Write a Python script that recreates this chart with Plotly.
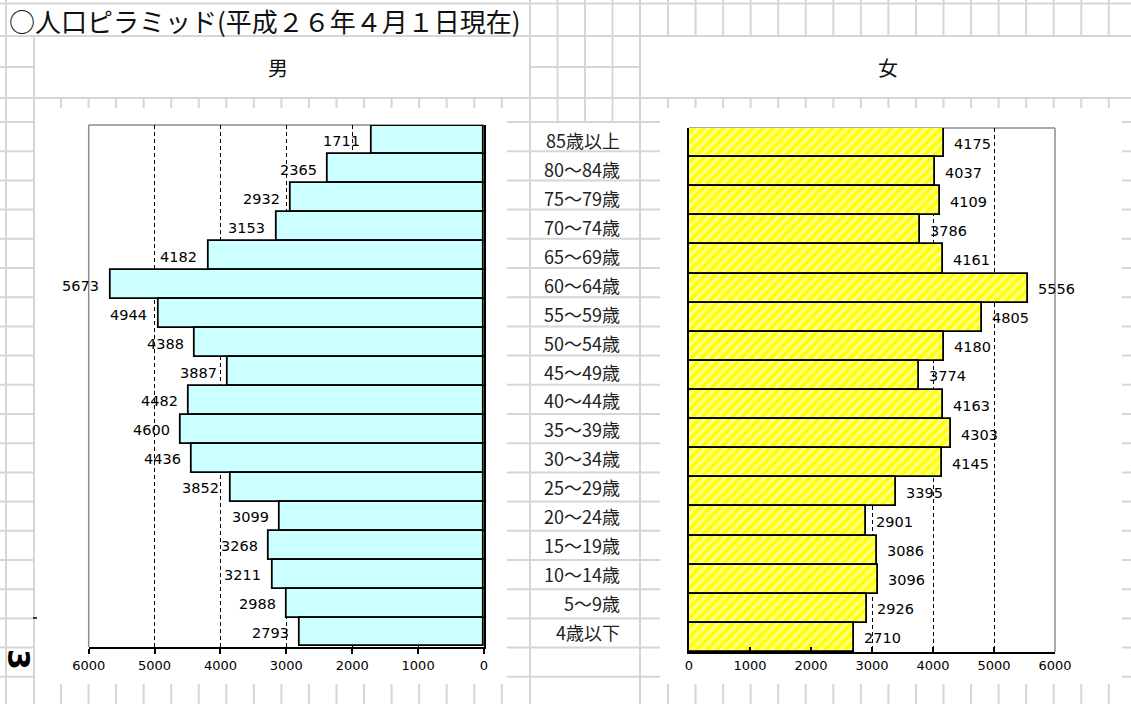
import plotly.graph_objects as go

# ---------------- data ----------------
categories = ["85歳以上", "80～84歳", "75～79歳", "70～74歳", "65～69歳", "60～64歳",
              "55～59歳", "50～54歳", "45～49歳", "40～44歳", "35～39歳", "30～34歳",
              "25～29歳", "20～24歳", "15～19歳", "10～14歳", "5～9歳", "4歳以下"]
male = [1711, 2365, 2932, 3153, 4182, 5673, 4944, 4388, 3887, 4482, 4600, 4436,
        3852, 3099, 3268, 3211, 2988, 2793]
female = [4175, 4037, 4109, 3786, 4161, 5556, 4805, 4180, 3774, 4163, 4303, 4145,
          3395, 2901, 3086, 3096, 2926, 2710]
tick_vals = [0, 1000, 2000, 3000, 4000, 5000, 6000]
title_text = "○人口ピラミッド(平成２６年４月１日現在)"
male_label = "男"
female_label = "女"

# ---------------- helpers (pixel -> paper) ----------------
W, H = 1131, 704


def px(x):
    return x / W


def py(y):
    return 1 - y / H


NUM_FONT = dict(family="DejaVu Sans", size=14.5, color="#000000")
TICK_FONT = dict(family="DejaVu Sans", size=13, color="#000000")
JP_FONT = "Noto Sans CJK JP"
GRID = "#D6D6D6"

fig = go.Figure()

fig.add_trace(go.Bar(
    y=categories, x=male, orientation="h", xaxis="x", yaxis="y",
    marker=dict(color="#CCFFFF", line=dict(color="#000000", width=1.8)),
    hoverinfo="x+y", showlegend=False,
))
fig.add_trace(go.Bar(
    y=categories, x=female, orientation="h", xaxis="x2", yaxis="y2",
    marker=dict(color="#FFFF00",
                pattern=dict(shape="/", bgcolor="#FFFF00", fgcolor="#FFFFFF",
                             size=7, solidity=0.5),
                line=dict(color="#000000", width=1.8)),
    hoverinfo="x+y", showlegend=False,
))

shapes = []

# ---- spreadsheet grid (decoration) ----
row_lines = [3.5, 36, 98] + [122 + 29.2 * k for k in range(21)]
for yv in row_lines:
    shapes.append(dict(type="line", xref="paper", yref="paper", x0=0, x1=1,
                       y0=py(yv), y1=py(yv), line=dict(color=GRID, width=2), layer="below"))
for (a, b) in [(0, 34), (530, 640)]:
    shapes.append(dict(type="line", xref="paper", yref="paper", x0=px(a), x1=px(b),
                       y0=py(67), y1=py(67), line=dict(color=GRID, width=2), layer="below"))

left_cols = [61 + 27.55 * k for k in range(17)]
mid_cols = [557.5, 585, 612.5]
right_cols = [668 + 27.55 * k for k in range(17)]


def vline(x, y0, y1):
    shapes.append(dict(type="line", xref="paper", yref="paper", x0=px(x), x1=px(x),
                       y0=py(y0), y1=py(y1), line=dict(color=GRID, width=2), layer="below"))


vline(6, 0, 704)
vline(34, 36, 704)
vline(530, 0, 704)
vline(640, 0, 704)
for c in left_cols:
    vline(c, 98, 704)
for c in mid_cols:
    vline(c, 0, 122)
for c in right_cols:
    vline(c, 0, 36)
    vline(c, 98, 704)

# chart areas (white)
for (x0, x1) in [(35, 507), (660, 1122)]:
    shapes.append(dict(type="rect", xref="paper", yref="paper", x0=px(x0), x1=px(x1),
                       y0=py(684), y1=py(108), fillcolor="#FFFFFF",
                       line=dict(width=0), layer="below"))

# plot-area frames (grey)
FRAME = dict(color="#8C8C8C", width=1.5)
shapes.append(dict(type="line", xref="x domain", yref="y domain", x0=0, x1=1, y0=1, y1=1,
                   line=FRAME, layer="below"))
shapes.append(dict(type="line", xref="x domain", yref="y domain", x0=0, x1=0, y0=0, y1=1,
                   line=FRAME, layer="above"))
shapes.append(dict(type="line", xref="x2 domain", yref="y2 domain", x0=0, x1=1, y0=1, y1=1,
                   line=FRAME, layer="below"))
shapes.append(dict(type="line", xref="x2 domain", yref="y2 domain", x0=1, x1=1, y0=0, y1=1,
                   line=FRAME, layer="above"))

# small mark on the left
shapes.append(dict(type="line", xref="paper", yref="paper", x0=px(33), x1=px(37),
                   y0=py(618), y1=py(618), line=dict(color="#000000", width=1.5)))

annotations = []
annotations.append(dict(text=title_text, xref="paper", yref="paper", x=px(7), y=py(20),
                        xanchor="left", yanchor="middle", showarrow=False,
                        font=dict(family=JP_FONT, size=26, color="#111111")))
annotations.append(dict(text=male_label, xref="paper", yref="paper", x=px(278), y=py(68),
                        xanchor="center", yanchor="middle", showarrow=False,
                        font=dict(family=JP_FONT, size=20, color="#111111")))
annotations.append(dict(text=female_label, xref="paper", yref="paper", x=px(888), y=py(68),
                        xanchor="center", yanchor="middle", showarrow=False,
                        font=dict(family=JP_FONT, size=20, color="#111111")))
annotations.append(dict(text="<b>3</b>", xref="paper", yref="paper", x=px(19), y=py(659),
                        xanchor="center", yanchor="middle", showarrow=False, textangle=90,
                        font=dict(family="DejaVu Sans", size=30, color="#000000")))

for i, v in enumerate(male):
    annotations.append(dict(text=str(v), x=v, y=i, xref="x", yref="y",
                            xanchor="right", yanchor="middle", xshift=-9, yshift=-1,
                            showarrow=False, font=NUM_FONT))
for i, v in enumerate(female):
    annotations.append(dict(text=str(v), x=v, y=i, xref="x2", yref="y2",
                            xanchor="left", yanchor="middle", xshift=8, yshift=-1,
                            showarrow=False, font=NUM_FONT))
for i, c in enumerate(categories):
    annotations.append(dict(text=c, x=px(622), y=i, xref="paper", yref="y",
                            xanchor="right", yanchor="middle", showarrow=False,
                            font=dict(family=JP_FONT, size=18, color="#222222")))

axis_common = dict(tickvals=tick_vals, ticktext=[str(t) for t in tick_vals],
                   showline=True, linecolor="#000000", linewidth=2,
                   showgrid=True, gridcolor="#000000", griddash="4px,3px", gridwidth=1,
                   zeroline=False, tickfont=TICK_FONT, tickcolor="#000000", ticklen=5,
                   tickwidth=1.5, fixedrange=True, automargin=False)
yaxis_common = dict(autorange="reversed", type="category", showline=True,
                    linecolor="#000000", linewidth=1.5, showticklabels=False, ticks="",
                    showgrid=False, zeroline=False, fixedrange=True, automargin=False)

fig.update_layout(
    width=W, height=H, autosize=False,
    margin=dict(l=0, r=0, t=0, b=0, pad=0),
    paper_bgcolor="#FFFFFF", plot_bgcolor="rgba(0,0,0,0)",
    bargap=0, showlegend=False,
    xaxis=dict(domain=[px(88.7), px(484)], range=[6000, 0], anchor="y",
               ticks="outside", **axis_common),
    yaxis=dict(domain=[py(647), py(125)], side="right", anchor="x", **yaxis_common),
    xaxis2=dict(domain=[px(689), px(1055)], range=[0, 6000], anchor="y2",
                ticks="inside", **axis_common),
    yaxis2=dict(domain=[py(652), py(128)], side="left", anchor="x2", **yaxis_common),
    shapes=shapes,
    annotations=annotations,
)

fig.write_html("out.html")
